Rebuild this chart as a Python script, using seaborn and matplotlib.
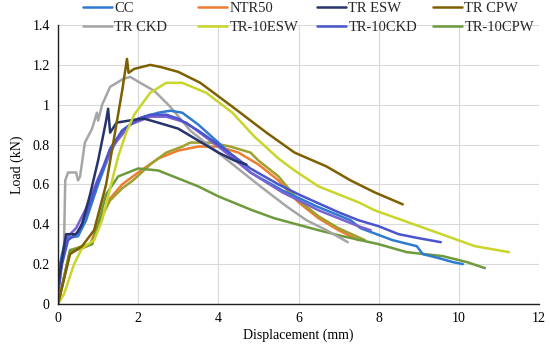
import numpy as np
import pandas as pd
import matplotlib
matplotlib.use("Agg")
import matplotlib.pyplot as plt
import seaborn as sns

# ------------------------------------------------------------------
# load-displacement curves
# ------------------------------------------------------------------
cc_x = [0.0, 0.1, 0.2, 0.5, 0.7, 1.0, 1.3, 1.6, 2.0, 2.5, 2.8, 3.1, 3.5, 4.0, 4.8, 5.6, 6.45, 7.3, 7.55, 8.35, 8.95, 9.1, 9.5, 9.85, 10.1]
cc_y = [0.15, 0.25, 0.33, 0.34, 0.42, 0.60, 0.76, 0.87, 0.93, 0.96, 0.97, 0.96, 0.90, 0.81, 0.66, 0.57, 0.49, 0.42, 0.38, 0.32, 0.29, 0.25, 0.23, 0.21, 0.20]

ntr50_x = [0.0, 0.3, 0.6, 0.8, 1.0, 1.3, 1.6, 2.0, 2.5, 3.0, 3.5, 4.0, 4.5, 5.0, 5.5, 6.0, 6.5, 7.0, 7.5]
ntr50_y = [0.0, 0.26, 0.28, 0.30, 0.40, 0.53, 0.60, 0.66, 0.73, 0.77, 0.79, 0.79, 0.76, 0.70, 0.62, 0.51, 0.43, 0.37, 0.32]

tresw_x = [0.0, 0.2, 0.45, 0.6, 0.8, 1.0, 1.2, 1.25, 1.3, 1.46, 1.9, 2.15, 2.5, 3.0, 3.5, 4.0, 4.4, 4.7]
tresw_y = [0.10, 0.35, 0.35, 0.40, 0.55, 0.72, 0.92, 0.98, 0.86, 0.91, 0.925, 0.93, 0.91, 0.88, 0.82, 0.76, 0.72, 0.70]

trcpw_x = [0.0, 0.3, 0.6, 0.9, 1.2, 1.6, 1.72, 1.76, 1.9, 2.3, 2.55, 3.0, 3.55, 4.35, 5.2, 5.9, 6.7, 7.3, 7.9, 8.6]
trcpw_y = [0.0, 0.25, 0.29, 0.37, 0.60, 1.07, 1.23, 1.16, 1.18, 1.20, 1.19, 1.165, 1.11, 0.99, 0.86, 0.76, 0.69, 0.62, 0.56, 0.50]

trckd_x = [0.0, 0.08, 0.15, 0.18, 0.25, 0.45, 0.5, 0.55, 0.67, 0.85, 0.97, 1.0, 1.1, 1.3, 1.63, 1.8, 2.05, 2.4, 2.8, 3.3, 3.8, 4.3, 4.55, 5.05, 5.7, 6.2, 6.7, 7.23]
trckd_y = [0.0, 0.20, 0.30, 0.62, 0.66, 0.66, 0.62, 0.64, 0.81, 0.88, 0.96, 0.92, 1.00, 1.09, 1.13, 1.14, 1.11, 1.07, 0.99, 0.87, 0.79, 0.71, 0.67, 0.59, 0.49, 0.42, 0.37, 0.31]

tr10esw_x = [0.0, 0.15, 0.4, 0.6, 0.9, 1.1, 1.3, 1.5, 1.7, 1.9, 2.3, 2.7, 3.1, 3.7, 4.35, 4.9, 5.5, 5.9, 6.5, 7.5, 7.9, 9.15, 10.4, 11.25]
tr10esw_y = [0.0, 0.05, 0.20, 0.28, 0.32, 0.42, 0.58, 0.74, 0.86, 0.95, 1.06, 1.11, 1.11, 1.06, 0.96, 0.84, 0.73, 0.67, 0.59, 0.51, 0.47, 0.38, 0.29, 0.26]

tr10ckd_x = [0.0, 0.1, 0.25, 0.5, 0.7, 1.0, 1.3, 1.6, 2.0, 2.3, 2.7, 3.0, 3.5, 4.0, 4.8, 5.5, 6.0, 7.0, 7.5, 8.0, 8.5, 9.0, 9.55]
tr10ckd_y = [0.05, 0.20, 0.32, 0.36, 0.45, 0.62, 0.78, 0.87, 0.93, 0.95, 0.95, 0.93, 0.87, 0.80, 0.68, 0.60, 0.55, 0.46, 0.42, 0.39, 0.35, 0.33, 0.31]

tr10cpw_x = [0.0, 0.3, 0.6, 0.85, 1.0, 1.2, 1.5, 2.0, 2.5, 3.0, 3.5, 4.0, 4.85, 5.4, 6.5, 7.1, 8.0, 8.7, 9.6, 10.2, 10.65]
tr10cpw_y = [0.0, 0.27, 0.28, 0.30, 0.40, 0.55, 0.64, 0.68, 0.67, 0.63, 0.59, 0.54, 0.47, 0.43, 0.37, 0.34, 0.30, 0.26, 0.24, 0.21, 0.18]

# two more curves appear in the picture without a legend entry
olive_x = [0.0, 0.3, 0.6, 0.85, 1.0, 1.3, 1.6, 1.87, 2.3, 2.7, 3.1, 3.3, 3.8, 4.3, 4.8, 5.0, 5.5, 6.0, 6.5, 7.0, 7.66]
olive_y = [0.0, 0.27, 0.29, 0.30, 0.40, 0.52, 0.58, 0.62, 0.70, 0.76, 0.79, 0.81, 0.81, 0.79, 0.76, 0.72, 0.64, 0.52, 0.44, 0.38, 0.32]

purple_x = [0.0, 0.2, 0.45, 0.7, 1.0, 1.4, 1.8, 2.3, 2.7, 3.2, 4.0, 4.8, 5.6, 6.5, 7.5, 7.8]
purple_y = [0.10, 0.33, 0.38, 0.48, 0.63, 0.80, 0.90, 0.94, 0.94, 0.91, 0.79, 0.66, 0.56, 0.47, 0.39, 0.37]

series = [
    ("NTR50", ntr50_x, ntr50_y, "#ED7D31"),
    ("_olive", olive_x, olive_y, "#A0A030"),
    ("TR-10CPW", tr10cpw_x, tr10cpw_y, "#6E9A3C"),
    ("TR CKD", trckd_x, trckd_y, "#A6A6A6"),
    ("CC", cc_x, cc_y, "#2F7BD0"),
    ("_purple", purple_x, purple_y, "#7A62D3"),
    ("TR-10CKD", tr10ckd_x, tr10ckd_y, "#4A55CC"),
    ("TR ESW", tresw_x, tresw_y, "#26346E"),
    ("TR-10ESW", tr10esw_x, tr10esw_y, "#C9D52B"),
    ("TR CPW", trcpw_x, trcpw_y, "#7F6000"),
]
# legend columns (top row, bottom row) and the figure x where each column starts
legend_cols = [("CC", "TR CKD"), ("NTR50", "TR-10ESW"), ("TR ESW", "TR-10CKD"), ("TR CPW", "TR-10CPW")]
legend_x = [83, 198, 317, 433]

sns.set_theme(style="whitegrid")
plt.rcParams["font.family"] = ["Liberation Serif", "DejaVu Serif"]

fig, ax = plt.subplots(figsize=(5.5, 3.53), dpi=100)
fig.subplots_adjust(left=0.1055, right=0.98, bottom=0.139, top=0.929)

for name, xs, ys, col in series:
    df = pd.DataFrame({"x": xs, "y": ys})
    sns.lineplot(data=df, x="x", y="y", ax=ax, color=col, linewidth=1.8,
                 sort=False, label=name, estimator=None)

ax.set_xlim(0, 12)
ax.set_ylim(0, 1.4)
ax.set_xticks(np.arange(0, 13, 2))
ax.set_yticks(np.arange(0, 1.41, 0.2))
ax.set_yticklabels(["0", "0.2", "0.4", "0.6", "0.8", "1", "1.2", "1.4"])
ax.tick_params(axis="both", labelsize=10, length=0, pad=6, colors="black")
ax.set_xlabel("Displacement (mm)", fontsize=10, color="black", labelpad=2)
ax.set_ylabel("Load (kN)", fontsize=10, color="black", labelpad=6)

ax.set_facecolor("white")
ax.grid(True, color="#D9D9D9", linewidth=0.8)
for side in ["top", "right"]:
    ax.spines[side].set_visible(False)
for side in ["left", "bottom"]:
    ax.spines[side].set_color("#202020")
    ax.spines[side].set_linewidth(1.0)

handles, labels = ax.get_legend_handles_labels()
lookup = dict(zip(labels, handles))
ax.get_legend().remove()
for names, px in zip(legend_cols, legend_x):
    leg = fig.legend([lookup[n] for n in names], list(names), loc="center left",
                     bbox_to_anchor=(px / 550, 1 - 18 / 353), ncol=1, frameon=False,
                     fontsize=10.5, borderpad=0, borderaxespad=0, handlelength=2.0,
                     handletextpad=0.15, labelspacing=0.35)

plt.savefig("out.png", dpi=100)
plt.close()
